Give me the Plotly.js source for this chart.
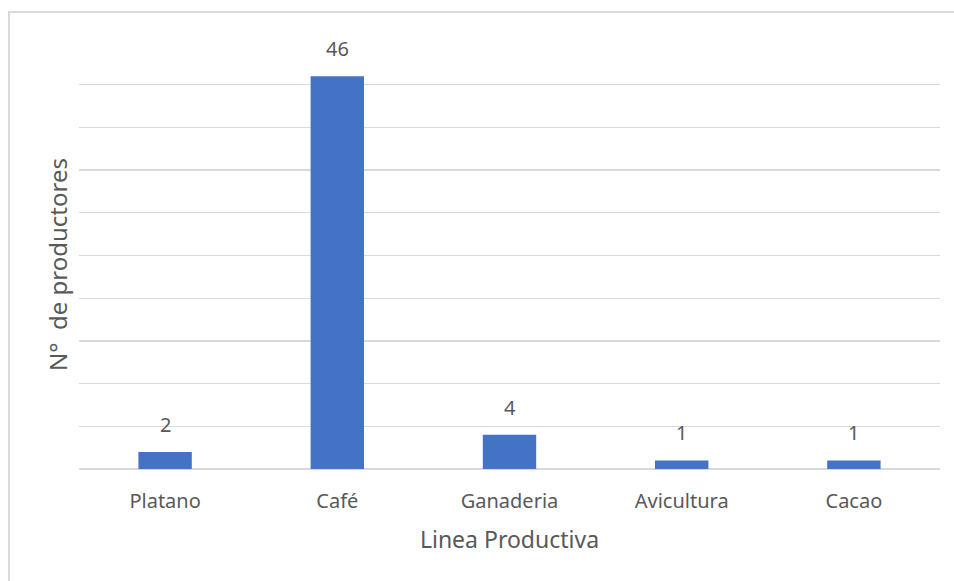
<!DOCTYPE html>
<html>
<head>
<meta charset="utf-8">
<script src="https://cdn.plot.ly/plotly-3.0.1.min.js"></script>
<style>
  html, body { margin: 0; padding: 0; width: 954px; height: 581px; overflow: hidden; background: #ffffff; }
  #frame { position: absolute; left: 8px; top: 11px; width: 1000px; height: 700px; border-left: 2px solid #d9d9d9; border-top: 2px solid #d9d9d9; }
  #chart { position: absolute; left: 0; top: 0; width: 954px; height: 581px; }
</style>
</head>
<body>
<div id="frame"></div>
<div id="chart"></div>
<script>
const categories = ["Platano", "Café", "Ganaderia", "Avicultura", "Cacao"];
const producers = [2, 46, 4, 1, 1];
const xTitle = "Linea Productiva";
const yTitle = "N°  de productores";

const font = "'Noto Sans', 'Open Sans', sans-serif";
const textColor = "#595959";

const trace = {
  type: "bar",
  x: categories,
  y: producers,
  marker: { color: "#4472C4" },
  hoverinfo: "x+y"
};

const annotations = categories.map((c, i) => ({
  x: c,
  y: producers[i],
  xref: "x",
  yref: "y",
  text: String(producers[i]),
  showarrow: false,
  yanchor: "bottom",
  yshift: 12,
  font: { family: font, size: 20, color: textColor }
}));

// y-axis title placed as a rotated annotation
annotations.push({
  xref: "paper",
  yref: "paper",
  x: -0.0256,
  y: 0.48,
  xanchor: "center",
  yanchor: "middle",
  textangle: -90,
  text: yTitle,
  showarrow: false,
  font: { family: font, size: 24, color: textColor }
});

const layout = {
  width: 954,
  height: 581,
  margin: { l: 79, r: 14, t: 41.5, b: 111.5 },
  paper_bgcolor: "rgba(0,0,0,0)",
  plot_bgcolor: "rgba(0,0,0,0)",
  bargap: 0.69,
  showlegend: false,
  font: { family: font, color: textColor },
  xaxis: {
    type: "category",
    showgrid: false,
    showline: false,
    ticks: "",
    tickfont: { family: font, size: 20, color: textColor },
    ticklabelstandoff: 18,
    title: { text: xTitle, font: { family: font, size: 23, color: textColor }, standoff: 18 }
  },
  yaxis: {
    range: [0, 50],
    dtick: 5,
    showticklabels: false,
    ticks: "",
    showgrid: true,
    gridcolor: "#d9d9d9",
    gridwidth: 1.3,
    zeroline: true,
    zerolinecolor: "#d9d9d9",
    zerolinewidth: 1.5,
    showline: false
  },
  annotations: annotations
};

Plotly.newPlot("chart", [trace], layout, { displayModeBar: false, staticPlot: true });
</script>
</body>
</html>
